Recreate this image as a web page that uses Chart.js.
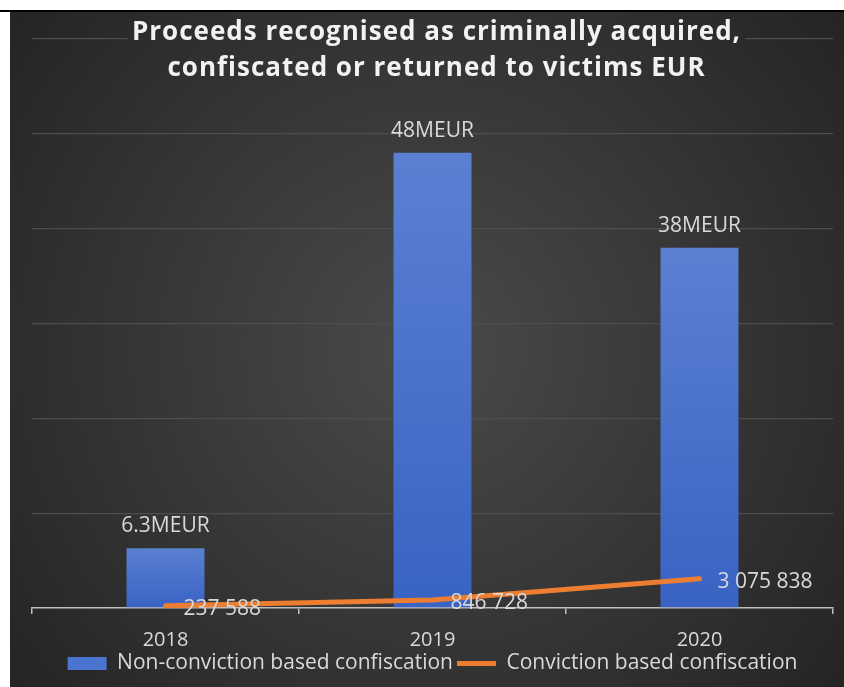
<!DOCTYPE html>
<html>
<head>
<meta charset="utf-8">
<script src="https://cdn.jsdelivr.net/npm/chart.js@4/dist/chart.umd.min.js"></script>
<style>
  html, body { margin: 0; padding: 0; background: #fff; }
  #topline { position: absolute; left: 0; top: 10px; width: 844px; height: 2px; background: #000; }
  #wrap { position: absolute; left: 10px; top: 12px; width: 834px; height: 675px; }
</style>
</head>
<body>
<div id="topline"></div>
<div id="wrap"><canvas id="myChart"></canvas></div>
<script>
const years = ['2018', '2019', '2020'];
const nonConviction = [6300000, 48000000, 38000000];
const conviction = [237588, 846728, 3075838];
const barLabels = ['6.3MEUR', '48MEUR', '38MEUR'];
const titleLines = ['Proceeds recognised as criminally acquired,', 'confiscated or returned to victims EUR'];

const FONT = "'Open Sans', sans-serif";
const LABEL_COLOR = '#d9d9d9';

function spaced(v) {
  return String(v).replace(/\B(?=(\d{3})+(?!\d))/g, ' ');
}

// per-bar vertical gradient, lighter at the top
function barFill(context) {
  const chart = context.chart;
  if (!chart.chartArea || context.dataIndex === undefined) return '#4472c4';
  const y = chart.scales.y;
  const top = y.getPixelForValue(context.raw);
  const base = y.getPixelForValue(0);
  const g = chart.ctx.createLinearGradient(0, top, 0, base);
  g.addColorStop(0, '#5b80d2');
  g.addColorStop(1, '#3963c4');
  return g;
}

const background = {
  id: 'background',
  beforeDraw(chart) {
    const {ctx, width, height} = chart;
    const g = ctx.createRadialGradient(width / 2, height / 2, 0, width / 2, height / 2, Math.hypot(width, height) / 2);
    g.addColorStop(0, '#4a4a4a');
    g.addColorStop(1, '#242424');
    chart.$bg = g;
    ctx.save();
    ctx.fillStyle = g;
    ctx.fillRect(0, 0, width, height);
    ctx.restore();
  }
};

const valueLabels = {
  id: 'valueLabels',
  afterDatasetsDraw(chart) {
    const ctx = chart.ctx;
    ctx.save();
    ctx.font = '21px ' + FONT;
    ctx.fillStyle = LABEL_COLOR;
    ctx.textBaseline = 'middle';
    chart.getDatasetMeta(0).data.forEach((bar, i) => {
      ctx.textAlign = 'center';
      ctx.fillText(barLabels[i], bar.x, bar.y - 22);
    });
    chart.getDatasetMeta(1).data.forEach((pt, i) => {
      ctx.textAlign = 'left';
      ctx.fillText(spaced(conviction[i]), pt.x + 18, pt.y + 3);
    });
    ctx.restore();
  },
  afterDraw(chart) {
    const ctx = chart.ctx;
    const cx = (chart.chartArea.left + chart.chartArea.right) / 2 + 4;
    ctx.save();
    ctx.font = 'bold 26px ' + FONT;
    ctx.letterSpacing = '1px';
    const w = ctx.measureText(titleLines[0]).width;
    // title box hides the top gridline behind it
    ctx.fillStyle = chart.$bg;
    ctx.fillRect(cx - w / 2 - 4, 14, w + 8, 70);
    ctx.fillStyle = '#f2f2f2';
    ctx.textAlign = 'center';
    ctx.textBaseline = 'middle';
    ctx.fillText(titleLines[0], cx, 21);
    ctx.fillText(titleLines[1], cx, 57);
    ctx.restore();
  }
};

const data = {
  labels: years,
  datasets: [
    {
      type: 'bar',
      label: 'Non-conviction based confiscation',
      data: nonConviction,
      backgroundColor: barFill,
      pointStyle: 'rect',
      categoryPercentage: 1,
      barPercentage: 0.292,
      order: 2
    },
    {
      type: 'line',
      label: 'Conviction based confiscation',
      data: conviction,
      borderColor: '#ed7d31',
      backgroundColor: '#ed7d31',
      borderWidth: 5,
      borderCapStyle: 'round',
      pointRadius: 0,
      pointStyle: 'line',
      tension: 0,
      order: 1
    }
  ]
};

const config = {
  data: data,
  options: {
    responsive: true,
    maintainAspectRatio: false,
    animation: false,
    layout: {padding: {top: 27, left: 22, right: 11, bottom: 3}},
    scales: {
      x: {
        afterFit(scale) { scale.height = 41; },
        grid: {offset: true, drawOnChartArea: false, drawTicks: true, tickLength: 6, color: '#bfbfbf', lineWidth: 1.5},
        border: {display: true, color: '#bfbfbf', width: 1.5},
        ticks: {color: LABEL_COLOR, font: {family: FONT, size: 20, lineHeight: 0.7}, padding: 19}
      },
      y: {
        min: 0,
        max: 60000000,
        ticks: {display: false, stepSize: 10000000},
        border: {display: false},
        grid: {drawTicks: false, color: (c) => c.tick.value === 0 ? 'rgba(0,0,0,0)' : '#4e4e4e', lineWidth: 1.3}
      }
    },
    plugins: {
      title: {display: false},
      tooltip: {enabled: false},
      legend: {
        position: 'bottom',
        labels: {
          color: LABEL_COLOR,
          font: {family: FONT, size: 21},
          usePointStyle: true,
          pointStyleWidth: 39,
          boxHeight: 13,
          padding: 4,
          sort: (a, b) => a.datasetIndex - b.datasetIndex,
          generateLabels(chart) {
            const items = Chart.defaults.plugins.legend.labels.generateLabels(chart);
            items.forEach((it) => {
              if (it.pointStyle === 'rect') { it.fillStyle = '#4a74d0'; it.lineWidth = 0; it.strokeStyle = 'rgba(0,0,0,0)'; }
            });
            return items;
          }
        }
      }
    }
  },
  plugins: [background, valueLabels]
};

const myChart = new Chart(document.getElementById('myChart'), config);
</script>
</body>
</html>
